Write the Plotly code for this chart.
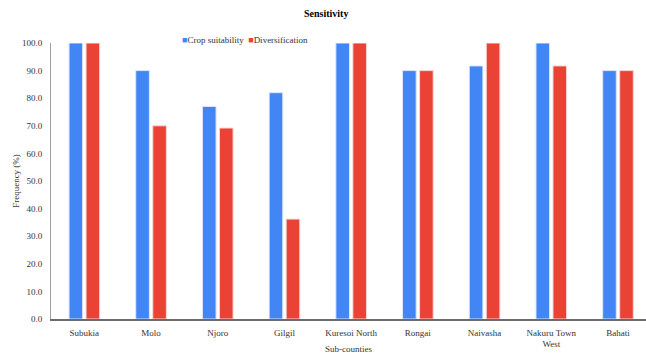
import plotly.graph_objects as go

sub_counties = ["Subukia", "Molo", "Njoro", "Gilgil", "Kuresoi North", "Rongai",
                "Naivasha", "Nakuru Town<br>West", "Bahati"]
crop_suitability = [100.0, 90.0, 77.0, 82.0, 100.0, 90.0, 91.7, 100.0, 90.0]
diversification = [100.0, 70.0, 69.2, 36.2, 100.0, 90.0, 100.0, 91.7, 90.0]
y_ticks = [0, 10, 20, 30, 40, 50, 60, 70, 80, 90, 100]
series_names = ["Crop suitability", "Diversification"]
series_colors = ["#4285F4", "#EA4335"]

FONT = "Liberation Serif, Times New Roman, serif"
TXT = "#333333"

fig = go.Figure()
fig.add_trace(go.Bar(name=series_names[0], x=sub_counties, y=crop_suitability,
                     marker=dict(color=series_colors[0], line=dict(color="#dbe6fb", width=1))))
fig.add_trace(go.Bar(name=series_names[1], x=sub_counties, y=diversification,
                     marker=dict(color=series_colors[1], line=dict(color="#f8d8d5", width=1))))

# compact legend drawn as text with square markers
legend_text = "  ".join(
    f"<span style='color:{c}'>■</span>{n}" for n, c in zip(series_names, series_colors)
)
fig.add_annotation(text=legend_text, xref="paper", yref="paper", x=0.217, y=1.01,
                   xanchor="left", yanchor="middle", showarrow=False,
                   font=dict(family=FONT, size=9, color=TXT))

fig.update_layout(
    width=646, height=354,
    margin=dict(l=51, r=0, t=42.5, b=35.3),
    paper_bgcolor="white", plot_bgcolor="white",
    font=dict(family=FONT, size=9, color=TXT),
    title=dict(text="<b>Sensitivity</b>", x=0.505, xanchor="center", y=0.963, yanchor="middle",
               font=dict(family=FONT, size=10, color="#000000"), automargin=False),
    barmode="group", bargap=0.49, bargroupgap=0.2,
    showlegend=False,
)
fig.update_xaxes(
    range=[-0.5, 8.42], showline=True, linecolor="#6b6b6b", linewidth=1.5,
    ticks="", showgrid=False, automargin=False, ticklabelstandoff=4,
    tickfont=dict(family=FONT, size=9, color=TXT),
    title=dict(text="Sub-counties", font=dict(family=FONT, size=9, color=TXT), standoff=0),
)
fig.update_yaxes(
    range=[0, 100], tickvals=y_ticks, tickformat=".1f", showline=True,
    linecolor="#a0a0a0", linewidth=1, ticks="", showgrid=False, zeroline=False,
    automargin=False, ticklabelstandoff=6,
    tickfont=dict(family=FONT, size=9, color=TXT),
    title=dict(text="Frequency (%)", font=dict(family=FONT, size=9, color=TXT), standoff=0),
)

fig.write_html("out.html", config={"displayModeBar": False},
               post_script="document.body.style.margin='0';")
